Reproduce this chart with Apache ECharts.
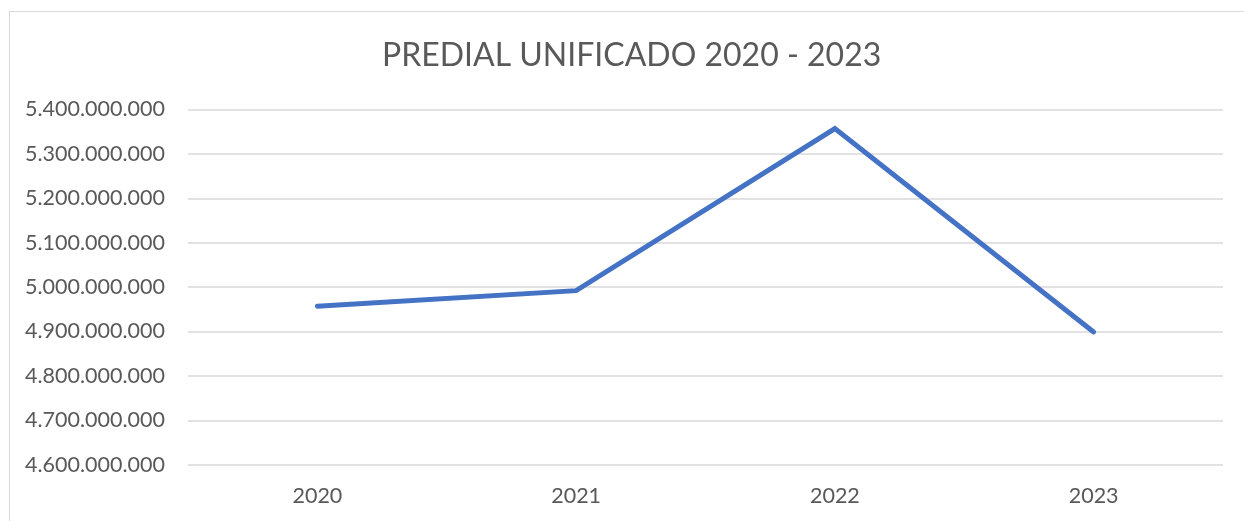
<!DOCTYPE html>
<html><head><meta charset="utf-8">
<script src="https://cdn.jsdelivr.net/npm/echarts@6/dist/echarts.min.js"></script>
<style>
html,body{margin:0;padding:0;background:#fff;}
#frame{position:absolute;left:9px;top:11px;width:1240px;height:520px;border:1px solid #d9d9d9;box-sizing:border-box;}
#c{position:absolute;left:0;top:0;width:1244px;height:521px;}
</style></head>
<body>
<div id="frame"></div>
<div id="c"></div>
<script>
const titleText = "PREDIAL UNIFICADO 2020 - 2023";
const categories = ["2020", "2021", "2022", "2023"];
const values = [4957000000, 4992000000, 5357000000, 4899000000];
const yMin = 4600000000, yMax = 5400000000, yStep = 100000000;

function fmt(v){ return String(Math.round(v)).replace(/\B(?=(\d{3})+(?!\d))/g, "."); }

const chart = echarts.init(document.getElementById('c'), null, {renderer:'canvas'});
chart.setOption({
  animation:false,
  backgroundColor:'transparent',
  title:{text:titleText,left:382,top:40,padding:0,textStyle:{fontFamily:'Lato',fontSize:32,fontWeight:'normal',color:'#595959'}},
  grid:{left:188,right:21,top:109.5,bottom:56.3},
  xAxis:{type:'category',data:categories,boundaryGap:true,
    axisLine:{show:false},axisTick:{show:false},
    axisLabel:{color:'#595959',fontFamily:'Lato',fontSize:21.5,margin:20}},
  yAxis:{type:'value',min:yMin,max:yMax,interval:yStep,
    axisLine:{show:false},axisTick:{show:false},
    splitLine:{lineStyle:{color:'#d9d9d9',width:1.5}},
    axisLabel:{color:'#595959',fontFamily:'Lato',fontSize:21.5,margin:23,formatter:fmt}},
  series:[{type:'line',data:values,symbol:'none',lineStyle:{color:'#4472c4',width:5,cap:'round',join:'miter'}}]
});
</script>
</body></html>
